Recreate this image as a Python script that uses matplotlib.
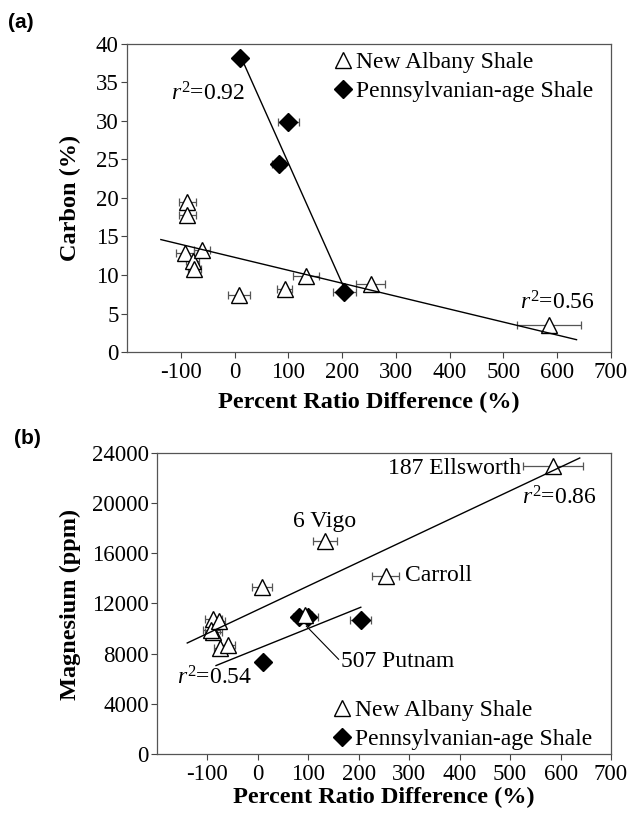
import matplotlib
matplotlib.use("Agg")
import matplotlib.pyplot as plt
from matplotlib.lines import Line2D

plt.rcParams['font.family'] = 'serif'
plt.rcParams['font.serif'] = ['Liberation Serif', 'DejaVu Serif']
plt.rcParams['mathtext.fontset'] = 'custom'
plt.rcParams['mathtext.rm'] = 'Liberation Serif'
plt.rcParams['mathtext.it'] = 'Liberation Serif:italic'
plt.rcParams['axes.unicode_minus'] = False

# New Albany Shale samples (same order in both panels)
na_x = [-88, -88, -92, -78, -75, -60, 8, 93, 133, 253, 585]
na_xerr = [16, 16, 16, 12, 12, 15, 20, 14, 24, 27, 60]
na_carbon = [19.5, 17.8, 12.8, 11.8, 10.8, 13.3, 7.4, 8.2, 9.9, 8.8, 3.5]
na_mg = [10800, 9700, 9900, 10600, 8450, 8700, 13300, 11100, 17000, 14200, 23000]

# Pennsylvanian-age Shale samples
pa_x = [10, 100, 82, 204]
pa_xerr = [8, 20, 12, 21]
pa_carbon = [38.2, 29.9, 24.4, 7.8]
pa_mg = [7300, 10950, 10950, 10700]

# regression lines (end points)
na_fit_x = [-137, 636]
na_fit_carbon = [14.6, 1.6]
pa_fit_x_a = [12, 204]
pa_fit_carbon = [38.3, 8.3]
na_fit_x_b = [-140, 638]
na_fit_mg = [8850, 23600]
pa_fit_x_b = [-83, 204]
pa_fit_mg = [7050, 11700]

xticks = [-100, 0, 100, 200, 300, 400, 500, 600, 700]
carbon_ticks = [0, 5, 10, 15, 20, 25, 30, 35, 40]
mg_ticks = [0, 4000, 8000, 12000, 16000, 20000, 24000]

SERIF = 'Liberation Serif'
TICK_FS = 16.5
TEXT_FS = 17
LABEL_FS = 17.5
EBAR = '#555555'


def draw_panel(ax, y_na, y_pa, fit_na, fit_pa, na_on_top):
    ax.errorbar(pa_x, y_pa, xerr=pa_xerr, fmt='none', ecolor=EBAR,
                elinewidth=0.9, capsize=3, capthick=0.9, zorder=2)
    ax.errorbar(na_x, y_na, xerr=na_xerr, fmt='none', ecolor=EBAR,
                elinewidth=0.9, capsize=3, capthick=0.9, zorder=2)
    z_na = 4 if na_on_top else 3
    ax.plot(pa_x, y_pa, linestyle='none', marker='D', markersize=9,
            color='black', zorder=3.5)
    ax.plot(na_x, y_na, linestyle='none', marker='^', markersize=12,
            markerfacecolor='white', markeredgecolor='black',
            markeredgewidth=1.0, zorder=z_na)
    ax.plot(fit_na[0], fit_na[1], color='black', lw=1.0, zorder=5)
    ax.plot(fit_pa[0], fit_pa[1], color='black', lw=1.0, zorder=5)

    ax.set_xlim(-200, 700)
    ax.set_xticks(xticks)
    ax.tick_params(axis='both', direction='out', length=4, width=0.8,
                   labelsize=TICK_FS, color='#444444')
    ax.tick_params(axis='y', pad=2)
    ax.tick_params(axis='x', pad=3)
    for s in ax.spines.values():
        s.set_color('#555555')
        s.set_linewidth(0.9)


def legend(ax, anchor):
    handles = [
        Line2D([], [], linestyle='none', marker='^', markersize=12,
               markerfacecolor='white', markeredgecolor='black', markeredgewidth=1.0),
        Line2D([], [], linestyle='none', marker='D', markersize=9, color='black'),
    ]
    ax.legend(handles, ['New Albany Shale', 'Pennsylvanian-age Shale'],
              loc='upper left', bbox_to_anchor=anchor, frameon=False,
              prop={'family': SERIF, 'size': TEXT_FS},
              handlelength=0.9, handletextpad=0.1,
              labelspacing=0.3, borderaxespad=0, borderpad=0)


def note(ax, x, y, s, ha='left'):
    ax.text(x, y, s, fontsize=TEXT_FS, family=SERIF, va='center', ha=ha)


fig = plt.figure(figsize=(6.32, 8.19), dpi=100)

# ---- panel (a): carbon
axa = fig.add_axes([0.2009, 0.5702, 0.7658, 0.3761])
draw_panel(axa, na_carbon, pa_carbon, (na_fit_x, na_fit_carbon),
           (pa_fit_x_a, pa_fit_carbon), na_on_top=False)
axa.set_ylim(0, 40)
axa.set_yticks(carbon_ticks)
note(axa, -118, 33.5, r'$r^{2}$=0.92')
note(axa, 531, 6.4, r'$r^{2}$=0.56')
legend(axa, (0.425, 0.975))

# ---- panel (b): magnesium
axb = fig.add_axes([0.2484, 0.0794, 0.7184, 0.3675])
draw_panel(axb, na_mg, pa_mg, (na_fit_x_b, na_fit_mg),
           (pa_fit_x_b, pa_fit_mg), na_on_top=True)
axb.set_ylim(0, 24000)
axb.set_yticks(mg_ticks)
note(axb, 522, 22800, '187 Ellsworth', ha='right')
note(axb, 524, 20400, r'$r^{2}$=0.86')
note(axb, 133, 18500, '6 Vigo', ha='center')
note(axb, 292, 14200, 'Carroll')
note(axb, 164, 7400, '507 Putnam')
axb.plot([96, 160], [10200, 7550], color='black', lw=0.8, zorder=5)
note(axb, -161, 6100, r'$r^{2}$=0.54')
legend(axb, (0.385, 0.18))

# axis titles
fig.text(0.111, 1 - 198 / 819, 'Carbon (%)', rotation=90, ha='center', va='center',
         fontsize=LABEL_FS, fontweight='bold', family=SERIF)
fig.text(0.584, 1 - 402 / 819, 'Percent Ratio Difference (%)', ha='center', va='center',
         fontsize=LABEL_FS, fontweight='bold', family=SERIF)
fig.text(0.111, 1 - 604 / 819, 'Magnesium (ppm)', rotation=90, ha='center', va='center',
         fontsize=LABEL_FS, fontweight='bold', family=SERIF)
fig.text(0.607, 1 - 797 / 819, 'Percent Ratio Difference (%)', ha='center', va='center',
         fontsize=LABEL_FS, fontweight='bold', family=SERIF)

# panel letters
fig.text(0.012, 1 - 23 / 819, '(a)', family='Liberation Sans', fontweight='bold',
         fontsize=15, ha='left', va='center')
fig.text(0.022, 1 - 438 / 819, '(b)', family='Liberation Sans', fontweight='bold',
         fontsize=15, ha='left', va='center')

fig.savefig('out.png', dpi=100)
